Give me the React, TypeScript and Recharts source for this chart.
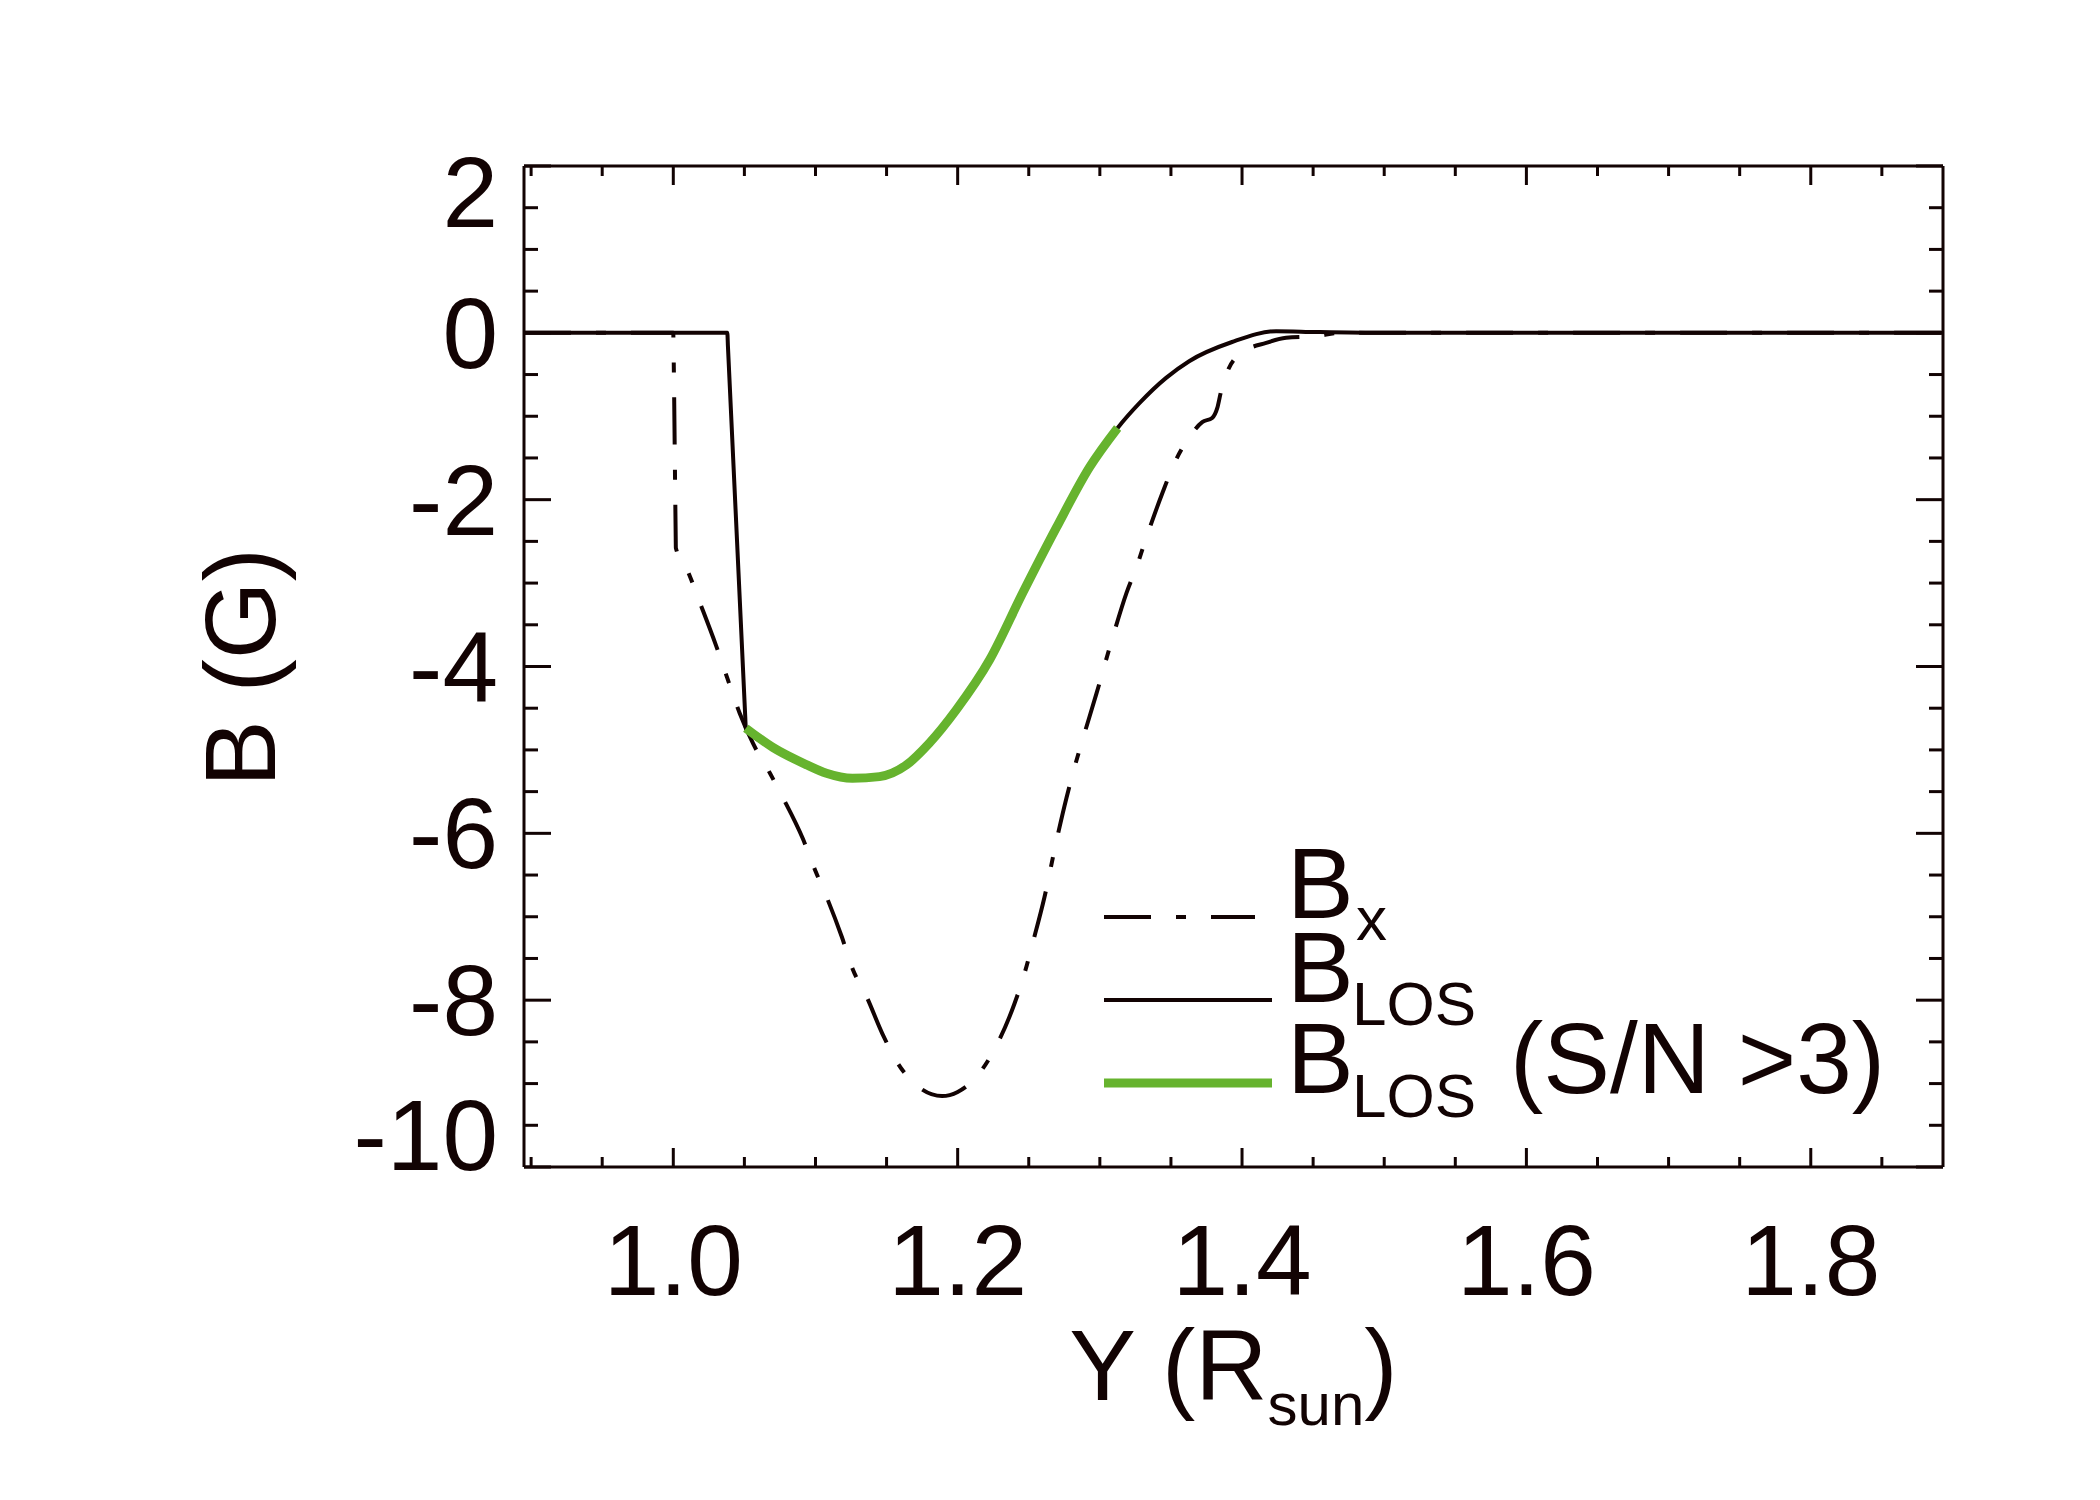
import { LineChart, Line, XAxis, YAxis, Legend } from 'recharts'

// ── data ───────────────────────────────────────────────────────────────────

const xTicks = [
  0.9, 0.95, 1.0, 1.05, 1.1, 1.15, 1.2, 1.25, 1.3, 1.35, 1.4, 1.45, 1.5, 1.55,
  1.6, 1.65, 1.7, 1.75, 1.8, 1.85,
]
const yTicks = [
  -10, -9.5, -9, -8.5, -8, -7.5, -7, -6.5, -6, -5.5, -5, -4.5, -4, -3.5, -3,
  -2.5, -2, -1.5, -1, -0.5, 0, 0.5, 1, 1.5, 2,
]

// B_x (dash-dot)
const bxY = [
  0.895, 1.0, 1.0001, 1.0017, 1.0018, 1.0095, 1.0186, 1.0299, 1.038, 1.0467,
  1.056, 1.068, 1.077, 1.091, 1.0997, 1.108, 1.1185, 1.126, 1.136, 1.147,
  1.158, 1.171, 1.189, 1.2, 1.2155, 1.228, 1.24, 1.247, 1.2527, 1.261, 1.2696,
  1.2766, 1.282, 1.288, 1.2977, 1.309, 1.3187, 1.3257, 1.3328, 1.344, 1.3525,
  1.363, 1.372, 1.379, 1.3826, 1.385, 1.3896, 1.4, 1.417, 1.431, 1.452, 1.47,
  1.893,
]
const bxB = [
  0, 0, -0.1, -2.45, -2.58, -2.83, -3.23, -3.74, -4.14, -4.56, -4.92, -5.28,
  -5.57, -6.06, -6.44, -6.77, -7.24, -7.62, -7.96, -8.4, -8.76, -9.02, -9.15,
  -9.1, -8.87, -8.52, -8.04, -7.68, -7.32, -6.77, -6.08, -5.57, -5.22, -4.87,
  -4.32, -3.65, -3.12, -2.81, -2.45, -1.92, -1.56, -1.25, -1.07, -1.02, -0.9,
  -0.72, -0.47, -0.24, -0.12, -0.06, -0.04, 0, 0,
]

// B_LOS (solid)
const losY = [
  0.895, 1.038, 1.0384, 1.0506, 1.051, 1.07, 1.094, 1.1077, 1.126, 1.145,
  1.164, 1.18, 1.199, 1.2225, 1.2457, 1.2696, 1.2928, 1.3125, 1.328, 1.3466,
  1.3628, 1.393, 1.424, 1.452, 1.5, 1.893,
]
const losB = [
  0, 0, -0.15, -4.6, -4.74, -4.97, -5.18, -5.28, -5.34, -5.32, -5.18, -4.92,
  -4.52, -3.92, -3.12, -2.33, -1.61, -1.14, -0.84, -0.54, -0.34, -0.11, 0.02,
  0.01, 0, 0,
]

// B_LOS where S/N > 3 (green)
const goodY = [
  1.051, 1.07, 1.094, 1.1077, 1.126, 1.145, 1.164, 1.18, 1.199, 1.2225,
  1.2457, 1.2696, 1.2928, 1.3125,
]
const goodB = [
  -4.74, -4.97, -5.18, -5.28, -5.34, -5.32, -5.18, -4.92, -4.52, -3.92, -3.12,
  -2.33, -1.61, -1.14,
]

const toRows = (xs: number[], ys: number[]) =>
  xs.map((x, i) => ({ x, b: ys[i] }))

const bxData = toRows(bxY, bxB)
const losData = toRows(losY, losB)
const goodData = toRows(goodY, goodB)

// ── styles ─────────────────────────────────────────────────────────────────

const INK = '#120303'
const GREEN = '#66b32e'
const FONT = '"Liberation Sans", Arial, Helvetica, sans-serif'
const DASHDOT = '47 25 10 25'

const isMajorX = (v: number) => Math.round(v * 100) % 20 === 0
const isMajorY = (v: number) => Math.abs(v % 2) < 1e-9

function BottomTick({ x, y, payload }: any) {
  const v = payload.value
  const major = isMajorX(v)
  return (
    <g>
      <line x1={x} y1={y} x2={x} y2={y - (major ? 19 : 10)} stroke={INK} strokeWidth={3} />
      {major && (
        <text x={x} y={y + 128} textAnchor="middle" fontSize={100} fontFamily={FONT} fill={INK}>
          {v.toFixed(1)}
        </text>
      )}
    </g>
  )
}

function TopTick({ x, y, payload }: any) {
  const major = isMajorX(payload.value)
  return <line x1={x} y1={y} x2={x} y2={y + (major ? 19 : 10)} stroke={INK} strokeWidth={3} />
}

function LeftTick({ x, y, payload }: any) {
  const v = payload.value
  const major = isMajorY(v)
  const dy = v === 2 ? 61 : v === -10 ? 3 : 35
  return (
    <g>
      <line x1={x} y1={y} x2={x + (major ? 27 : 14)} y2={y} stroke={INK} strokeWidth={3} />
      {major && (
        <text x={x - 26} y={y + dy} textAnchor="end" fontSize={100} fontFamily={FONT} fill={INK}>
          {String(v)}
        </text>
      )}
    </g>
  )
}

function RightTick({ x, y, payload }: any) {
  const major = isMajorY(payload.value)
  return <line x1={x} y1={y} x2={x - (major ? 27 : 14)} y2={y} stroke={INK} strokeWidth={3} />
}

function XTitle({ viewBox }: any) {
  const cx = viewBox.x + viewBox.width / 2
  return (
    <text x={cx} y={viewBox.y + 233} textAnchor="middle" fontSize={100} fontFamily={FONT} fill={INK}>
      <tspan>Y (R</tspan>
      <tspan fontSize={60} dy={25}>sun</tspan>
      <tspan dy={-25}>)</tspan>
    </text>
  )
}

function YTitle({ viewBox }: any) {
  const cy = viewBox.y + viewBox.height / 2 + 1
  const bx = 275
  return (
    <text
      x={bx}
      y={cy}
      transform={`rotate(-90, ${bx}, ${cy})`}
      textAnchor="middle"
      fontSize={100}
      fontFamily={FONT}
      fill={INK}
    >
      B (G)
    </text>
  )
}

function LegendBox() {
  const t = { fontFamily: FONT, fill: INK }
  return (
    <svg width={820} height={330} style={{ display: 'block', overflow: 'visible' }}>
      <line x1={24} y1={97} x2={175} y2={97} stroke={INK} strokeWidth={4} strokeDasharray={DASHDOT} />
      <text x={207} y={98} fontSize={100} {...t}>B</text>
      <text x={276} y={120} fontSize={62} {...t}>x</text>

      <line x1={24} y1={180} x2={192} y2={180} stroke={INK} strokeWidth={4} />
      <text x={207} y={182} fontSize={100} {...t}>B</text>
      <text x={272} y={205} fontSize={62} {...t}>LOS</text>

      <line x1={24} y1={263} x2={192} y2={263} stroke={GREEN} strokeWidth={9} />
      <text x={207} y={273} fontSize={100} {...t}>B</text>
      <text x={272} y={297} fontSize={62} {...t}>LOS</text>
      <text x={430} y={273} fontSize={100} {...t}>(S/N &gt;3)</text>
    </svg>
  )
}

export default function App() {
  return (
    <div style={{ position: 'absolute', left: 0, top: 0, background: '#fff' }}>
      <LineChart width={2100} height={1500} margin={{ top: 165, right: 156, bottom: 133, left: 224 }}>
        <XAxis
          xAxisId={0}
          dataKey="x"
          type="number"
          domain={[0.895, 1.893]}
          allowDataOverflow
          ticks={xTicks}
          interval={0}
          height={200}
          tickSize={0}
          tickMargin={0}
          tickLine={false}
          axisLine={{ stroke: INK, strokeWidth: 3 }}
          tick={BottomTick}
          label={<XTitle />}
        />
        <XAxis
          xAxisId="top"
          orientation="top"
          dataKey="x"
          type="number"
          domain={[0.895, 1.893]}
          allowDataOverflow
          ticks={xTicks}
          interval={0}
          height={1}
          tickSize={0}
          tickMargin={0}
          tickLine={false}
          axisLine={{ stroke: INK, strokeWidth: 3 }}
          tick={TopTick}
        />
        <YAxis
          yAxisId={0}
          dataKey="b"
          type="number"
          domain={[-10, 2]}
          allowDataOverflow
          ticks={yTicks}
          interval={0}
          width={300}
          tickSize={0}
          tickMargin={0}
          tickLine={false}
          axisLine={{ stroke: INK, strokeWidth: 3 }}
          tick={LeftTick}
          label={<YTitle />}
        />
        <YAxis
          yAxisId="right"
          orientation="right"
          dataKey="b"
          type="number"
          domain={[-10, 2]}
          allowDataOverflow
          ticks={yTicks}
          interval={0}
          width={1}
          tickSize={0}
          tickMargin={0}
          tickLine={false}
          axisLine={{ stroke: INK, strokeWidth: 3 }}
          tick={RightTick}
        />
        <Legend
          layout="vertical"
          align="center"
          verticalAlign="middle"
          content={() => <LegendBox />}
          wrapperStyle={{ position: 'absolute', left: 1080, top: 820, width: 820, height: 330 }}
        />
        <Line
          data={bxData}
          dataKey="b"
          name="Bx"
          type="monotone"
          stroke={INK}
          strokeWidth={4}
          strokeDasharray={DASHDOT}
          dot={false}
          activeDot={false}
          isAnimationActive={false}
        />
        <Line
          data={losData}
          dataKey="b"
          name="BLOS"
          type="monotone"
          stroke={INK}
          strokeWidth={4}
          dot={false}
          activeDot={false}
          isAnimationActive={false}
        />
        <Line
          data={goodData}
          dataKey="b"
          name="BLOS (S/N >3)"
          type="monotone"
          stroke={GREEN}
          strokeWidth={9}
          dot={false}
          activeDot={false}
          isAnimationActive={false}
        />
      </LineChart>
    </div>
  )
}
